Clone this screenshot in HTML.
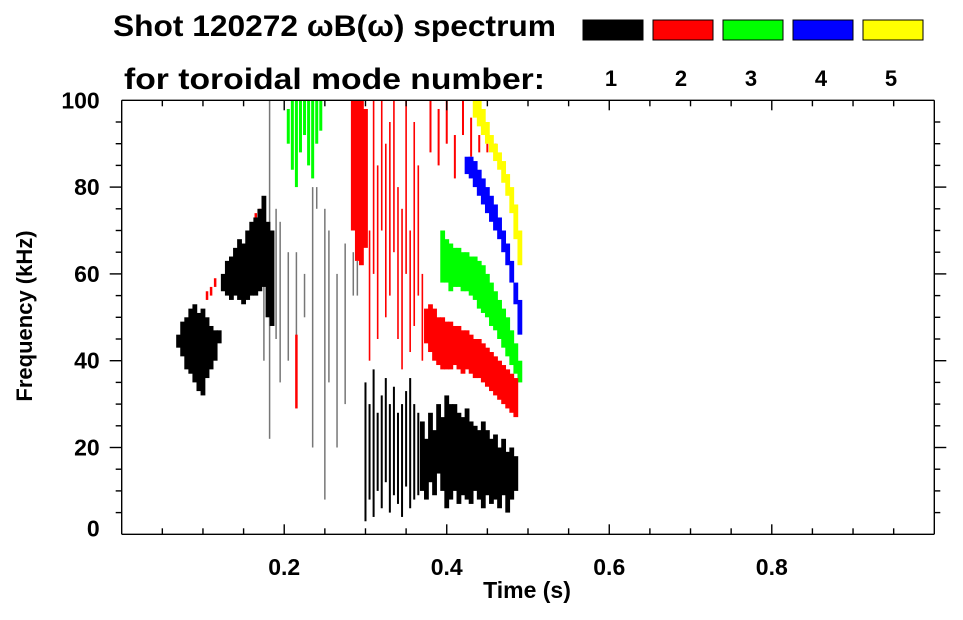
<!DOCTYPE html>
<html><head><meta charset="utf-8"><style>
body{margin:0;background:#fff;width:963px;height:615px;overflow:hidden;font-family:"Liberation Sans",sans-serif}
svg text{font-family:"Liberation Sans",sans-serif;font-weight:bold}
</style></head><body>
<svg id="chart" width="963" height="615" viewBox="0 0 963 615">
<g id="legend">
<text x="113" y="36" font-size="30" textLength="443" lengthAdjust="spacingAndGlyphs">Shot 120272 ωB(ω) spectrum</text>
<text x="124" y="89" font-size="30" textLength="421" lengthAdjust="spacingAndGlyphs">for toroidal mode number:</text>
</g>
<g id="marks"></g>
<g id="axes"></g>
<text transform="translate(32,316) rotate(-90)" text-anchor="middle" font-size="22">Frequency (kHz)</text>
<text x="527" y="598" text-anchor="middle" font-size="23">Time (s)</text>
</svg>
<script>
// Axis domains
const xTicks=[0.2,0.4,0.6,0.8];
const xTickLabels=["0.2","0.4","0.6","0.8"];
const yTicks=[0,20,40,60,80,100];
const yTickLabels=["0","20","40","60","80","100"];
const modeNumbers=["1","2","3","4","5"];
const modeColors=["#000000","#ff0000","#00ff00","#0000ff","#ffff00"];

// Mode 1 (black)
const m1EarlyT=[.070,.075,.080,.085,.090,.095,.100,.105,.110,.115,.120];
const m1EarlyLo=[43,41,38,37,35,33,32,36,38,40,44];
const m1EarlyHi=[46,49,50,52,53,51,52,50,48,47,47];
const m1MidT=[.125,.130,.135,.140,.145,.150,.155,.160,.165,.170,.175,.180,.185];
const m1MidLo=[56,55,54,55,54,53,54,55,55,56,57,50,48];
const m1MidHi=[60,63,64,66,68,67,70,72,73,75,78,72,70];
const m1LineT=[.175,.182,.190,.195,.205,.215,.225,.235,.240,.250,.255,.265,.275,.285,.290];
const m1LineLo=[40,22,45,35,40,45,50,20,75,8,35,20,30,55,55];
const m1LineHi=[70,100,75,72,65,65,60,80,80,75,70,60,67,65,63];
const m1StreakT=[.300,.305,.310,.315,.320,.325,.330,.335,.340,.345,.350,.355,.360,.365];
const m1StreakLo=[3,8,4,10,6,12,5,9,7,4,11,6,8,9];
const m1StreakHi=[35,30,38,28,32,36,30,34,28,30,33,36,30,28];
const m1MainT=[.370,.375,.380,.385,.390,.395,.400,.405,.410,.415,.420,.425,.430,.435,.440,.445,.450,.455,.460,.465,.470,.475,.480,.485];
const m1MainLo=[10,8,12,9,14,10,6,8,10,7,9,8,7,10,8,6,9,7,8,6,9,5,8,10];
const m1MainHi=[26,22,28,24,30,27,32,30,30,28,27,29,26,25,24,26,24,22,23,20,22,19,20,18];

// Mode 2 (red)
const m2EarlyT=[.105,.110,.115,.165,.170,.215];
const m2EarlyLo=[54,55,57,70,71,29];
const m2EarlyHi=[56,57,59,74,75,46];
const m2ColT=[.285,.290,.295,.300];
const m2ColLo=[70,63,62,66];
const m2ColHi=[100,100,100,98];
const m2StreakT=[.305,.310,.315,.320,.325,.330,.335,.340,.345,.350,.355,.360,.365,.370];
const m2StreakLo=[40,60,45,70,50,55,65,45,38,60,42,48,55,40];
const m2StreakHi=[70,100,85,100,90,95,100,80,75,100,70,95,85,60];
const m2BandT=[.375,.380,.385,.390,.395,.400,.405,.410,.415,.420,.425,.430,.435,.440,.445,.450,.455,.460,.465,.470,.475,.480,.485];
const m2BandLo=[44,42,40,39,38,38,38,39,38,37,38,37,36,36,35,34,33,32,31,30,29,28,27];
const m2BandHi=[52,53,52,50,50,49,49,48,48,47,47,46,45,45,44,43,42,41,40,39,38,37,36];
const m2UpperT=[.380,.390,.400,.410,.420,.430,.440,.450,.460];
const m2UpperLo=[88,85,90,82,92,87,88,88,87];
const m2UpperHi=[100,98,100,92,100,96,92,90,90];

// Mode 3 (green)
const m3EarlyT=[.205,.210,.215,.220,.225,.230,.235,.240,.245];
const m3EarlyLo=[90,84,80,88,92,85,82,90,93];
const m3EarlyHi=[98,100,100,100,100,100,100,100,100];
const m3BandT=[.395,.400,.405,.410,.415,.420,.425,.430,.435,.440,.445,.450,.455,.460,.465,.470,.475,.480,.485,.490];
const m3BandLo=[58,58,56,57,57,56,56,55,54,52,51,50,48,47,45,43,41,39,37,35];
const m3BandHi=[70,68,67,66,66,65,65,64,64,63,62,60,58,56,54,52,50,47,44,40];

// Mode 4 (blue)
const m4T=[.425,.430,.435,.440,.445,.450,.455,.460,.465,.470,.475,.480,.485,.490];
const m4Lo=[83,82,80,78,76,74,72,70,68,65,62,58,53,46];
const m4Hi=[87,87,86,84,82,80,78,76,73,70,67,63,58,54];

// Mode 5 (yellow)
const m5T=[.435,.440,.445,.450,.455,.460,.465,.470,.475,.480,.485,.490];
const m5Lo=[96,94,92,90,88,86,84,81,78,74,68,62];
const m5Hi=[100,100,98,95,92,90,88,86,83,80,76,70];

const L=121.7,R=934.3,T=100.3,B=534.3;
const xS=t=>L+t*(R-L);
const yS=f=>B-f/100*(B-T);
const NS="http://www.w3.org/2000/svg";
const marks=document.getElementById('marks');
const axes=document.getElementById('axes');
const legend=document.getElementById('legend');

function strips(ts,los,his,color,w,name){
  for(let i=0;i<ts.length;i++){
    const r=document.createElementNS(NS,'rect');
    
    
    r.setAttribute('x',xS(ts[i])-w/2);
    r.setAttribute('y',yS(his[i]));
    r.setAttribute('width',w);
    r.setAttribute('height',Math.max(1,yS(los[i])-yS(his[i])));
    r.setAttribute('fill',color);
    marks.appendChild(r);
  }
}
strips(m1LineT,m1LineLo,m1LineHi,'#777',1.5,'mode1-line');
strips(m2UpperT,m2UpperLo,m2UpperHi,'#ff0000',2,'mode2-upper');
strips(m2StreakT,m2StreakLo,m2StreakHi,'#ff0000',1.6,'mode2-streak');
strips(m2ColT,m2ColLo,m2ColHi,'#ff0000',4.8,'mode2-column');
strips(m2EarlyT,m2EarlyLo,m2EarlyHi,'#ff0000',2.5,'mode2-early');
strips(m3EarlyT,m3EarlyLo,m3EarlyHi,'#00ff00',3,'mode3-early');
strips(m3BandT,m3BandLo,m3BandHi,'#00ff00',4.8,'mode3-band');
strips(m4T,m4Lo,m4Hi,'#0000ff',4.8,'mode4-band');
strips(m5T,m5Lo,m5Hi,'#ffff00',4.8,'mode5-band');
strips(m2BandT,m2BandLo,m2BandHi,'#ff0000',4.8,'mode2-band');
strips(m1EarlyT,m1EarlyLo,m1EarlyHi,'#000',4.8,'mode1-early');
strips(m1MidT,m1MidLo,m1MidHi,'#000',4.8,'mode1-mid');
strips(m1StreakT,m1StreakLo,m1StreakHi,'#000',2,'mode1-streak');
strips(m1MainT,m1MainLo,m1MainHi,'#000',4.8,'mode1-main');

function line(x1,y1,x2,y2,name){
  const l=document.createElementNS(NS,'line');
  
  
  l.setAttribute('x1',x1);l.setAttribute('y1',y1);l.setAttribute('x2',x2);l.setAttribute('y2',y2);
  l.setAttribute('stroke','#000');l.setAttribute('stroke-width','1.4');
  axes.appendChild(l);
}
function text(x,y,s,size,anchor,name,parent){
  const t=document.createElementNS(NS,'text');
  
  
  t.setAttribute('x',x);t.setAttribute('y',y);t.setAttribute('font-size',size);t.setAttribute('text-anchor',anchor);
  t.textContent=s;(parent||axes).appendChild(t);
}
line(L,T,R,T,'plot-frame-top');line(L,B,R,B,'plot-frame-bottom');
line(L,T,L,B,'plot-frame-left');line(R,T,R,B,'plot-frame-right');
for(let k=1;k<20;k++){
  const t=k*0.05,x=xS(t),len=(k%4===0)?10:6;
  line(x,B,x,B-len,'x-tick');line(x,T,x,T+len,'x-tick-top');
}
for(let k=1;k<20;k++){
  const f=k*5,y=yS(f),len=(k%4===0)?12:6;
  line(L,y,L-len,y,'y-tick');line(R,y,R+len,y,'y-tick-right');
}
xTicks.forEach((v,i)=>text(xS(v),575,xTickLabels[i],23,'middle','x-tick-label'));
yTicks.forEach((v,i)=>text(L-22,yS(v)+(v===0?2:8),yTickLabels[i],23,'end','y-tick-label'));
modeNumbers.forEach((m,i)=>{
  const x=583+i*70;
  const r=document.createElementNS(NS,'rect');
  
  
  r.setAttribute('x',x);r.setAttribute('y',20);r.setAttribute('width',60);r.setAttribute('height',20);
  r.setAttribute('fill',modeColors[i]);r.setAttribute('stroke','#000');r.setAttribute('stroke-width','1');
  legend.appendChild(r);
  text(x+28,86,m,22,'middle','legend-label-'+m,legend);
});
</script>
</body></html>
